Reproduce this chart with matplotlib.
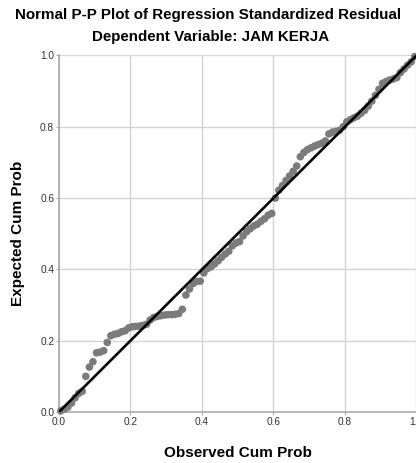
import matplotlib
matplotlib.use("Agg")
import matplotlib.pyplot as plt

# Observed vs expected cumulative probabilities
observed = [
    0.005, 0.015, 0.025, 0.035, 0.045, 0.055, 0.065, 0.075, 0.085, 0.095,
    0.105, 0.115, 0.125, 0.135, 0.145, 0.155, 0.165, 0.175, 0.185, 0.195,
    0.205, 0.215, 0.225, 0.235, 0.245, 0.255, 0.265, 0.275, 0.285, 0.295,
    0.305, 0.315, 0.325, 0.335, 0.345, 0.355, 0.365, 0.375, 0.385, 0.395,
    0.405, 0.415, 0.425, 0.435, 0.445, 0.455, 0.465, 0.475, 0.485, 0.495,
    0.505, 0.515, 0.525, 0.535, 0.545, 0.555, 0.565, 0.575, 0.585, 0.595,
    0.605, 0.615, 0.625, 0.635, 0.645, 0.655, 0.665, 0.675, 0.685, 0.695,
    0.705, 0.715, 0.725, 0.735, 0.745, 0.755, 0.765, 0.775, 0.785, 0.795,
    0.805, 0.815, 0.825, 0.835, 0.845, 0.855, 0.865, 0.875, 0.885, 0.895,
    0.905, 0.915, 0.925, 0.935, 0.945, 0.955, 0.965, 0.975, 0.985, 0.995,
]
expected = [
    0.003, 0.008, 0.014, 0.025, 0.040, 0.052, 0.058, 0.100, 0.126, 0.141,
    0.166, 0.168, 0.172, 0.195, 0.214, 0.218, 0.220, 0.225, 0.228, 0.236,
    0.239, 0.240, 0.241, 0.243, 0.246, 0.258, 0.265, 0.268, 0.270, 0.272,
    0.273, 0.273, 0.274, 0.276, 0.288, 0.328, 0.345, 0.360, 0.366, 0.367,
    0.390, 0.402, 0.407, 0.415, 0.424, 0.434, 0.443, 0.451, 0.466, 0.474,
    0.478, 0.494, 0.506, 0.514, 0.522, 0.527, 0.535, 0.542, 0.552, 0.557,
    0.600, 0.622, 0.635, 0.649, 0.662, 0.675, 0.690, 0.716, 0.728, 0.736,
    0.741, 0.746, 0.750, 0.754, 0.760, 0.780, 0.785, 0.787, 0.790, 0.800,
    0.814, 0.820, 0.825, 0.830, 0.838, 0.846, 0.858, 0.872, 0.888, 0.905,
    0.922, 0.927, 0.931, 0.934, 0.938, 0.952, 0.962, 0.973, 0.982, 0.997,
]
ref_line = [0.0, 1.0]
ticks = [0.0, 0.2, 0.4, 0.6, 0.8, 1.0]
tick_labels = ["0.0", "0.2", "0.4", "0.6", "0.8", "1.0"]

plt.rcParams["font.family"] = ["Liberation Sans", "DejaVu Sans"]

fig = plt.figure(figsize=(4.16, 4.63), dpi=100)
ax = fig.add_axes([0.1418, 0.1102, 0.8594, 0.770])

ax.scatter(observed, expected, s=30, color="#7b7b7b", edgecolors="none",
           zorder=3, clip_on=False)
ax.plot(ref_line, ref_line, color="black", lw=1.9, zorder=4,
        solid_capstyle="butt")

ax.set_xlim(0, 1)
ax.set_ylim(0, 1)
ax.set_xticks(ticks)
ax.set_yticks(ticks)
ax.set_xticklabels(tick_labels)
ax.set_yticklabels(tick_labels)
ax.tick_params(labelsize=7.3, colors="#333333", length=2, width=0.8, pad=1.5)
ax.tick_params(axis="both", color="#aaaaaa")
ax.grid(True, color="#d4d4d4", lw=1.0, zorder=0)
ax.set_axisbelow(True)

for side in ("top", "right"):
    ax.spines[side].set_visible(False)
for side in ("left", "bottom"):
    ax.spines[side].set_color("#aaaaaa")
    ax.spines[side].set_linewidth(1.2)

fig.text(0.5, 0.959, "Normal P-P Plot of Regression Standardized Residual",
         ha="center", va="baseline", fontsize=10.9, fontweight="bold")
fig.text(0.505, 0.9114, "Dependent Variable: JAM KERJA",
         ha="center", va="baseline", fontsize=10.9, fontweight="bold")
fig.text(0.571, 0.013, "Observed Cum Prob",
         ha="center", va="baseline", fontsize=11, fontweight="bold")
fig.text(0.043, 0.495, "Expected Cum Prob", rotation=90,
         ha="center", va="center", fontsize=11, fontweight="bold")

fig.savefig("out.png", dpi=100)
